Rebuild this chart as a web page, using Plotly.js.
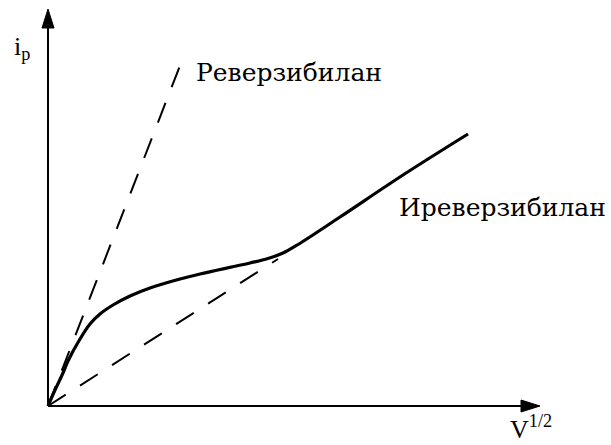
<!DOCTYPE html>
<html>
<head>
<meta charset="utf-8">
<script src="https://cdn.plot.ly/plotly-3.0.1.min.js"></script>
<style>html,body{margin:0;padding:0;background:#fff}</style>
</head>
<body>
<div id="chart" style="width:611px;height:445px"></div>
<script>
// Reversible response: straight line through the origin
const reversibleX = [0, 2.66];
const reversibleY = [0, 6.86];

// Asymptote of the irreversible response at low scan rates
const asymptoteX = [0, 4.6];
const asymptoteY = [0, 2.94];

// Irreversible response: peak current vs square root of scan rate
const irreversibleX = [0, 0.14, 0.3, 0.4, 0.64, 0.84, 1.04, 1.3, 1.64, 2.04, 2.64, 3.04, 4.04, 4.4, 4.7, 5.0, 5.84, 7.1, 8.4];
const irreversibleY = [0, 0.32, 0.66, 0.9, 1.34, 1.64, 1.84, 2.02, 2.2, 2.36, 2.54, 2.64, 2.86, 2.95, 3.06, 3.23, 3.78, 4.62, 5.44];

// Curve labels and axis titles
const curveLabels = ['Реверзибилан', 'Иреверзибилан'];
const axisTitles = ['i<sub>p</sub>', 'V<sup>1/2</sup>'];

// Axis extents (tips of the arrows)
const xTip = 9.84;
const yTip = 7.94;
const headLen = 0.38;
const headHalf = 0.12;

// Cyrillic labels use DejaVu Serif; Latin symbols use Liberation Serif
const cyrSerif = "'DejaVu Serif', serif";
const serif = "'Liberation Serif', 'DejaVu Serif', serif";

const traces = [
  {
    x: reversibleX, y: reversibleY, mode: 'lines', hoverinfo: 'skip',
    line: {color: '#000', width: 2, dash: '21px,17px'}
  },
  {
    x: asymptoteX, y: asymptoteY, mode: 'lines', hoverinfo: 'skip',
    line: {color: '#000', width: 2, dash: '21px,17px'}
  },
  {
    x: irreversibleX, y: irreversibleY, mode: 'lines', hoverinfo: 'skip',
    line: {color: '#000', width: 3.2, shape: 'spline', smoothing: 1}
  }
];

const shapes = [
  {type: 'line', xref: 'x', yref: 'y', x0: 0, y0: 0, x1: xTip - 0.1, y1: 0, line: {color: '#000', width: 2}},
  {type: 'line', xref: 'x', yref: 'y', x0: 0, y0: 0, x1: 0, y1: yTip - 0.1, line: {color: '#000', width: 2}},
  {type: 'path', xref: 'x', yref: 'y',
   path: `M${xTip},0 L${xTip - headLen},${headHalf} L${xTip - headLen},${-headHalf} Z`,
   fillcolor: '#000', line: {color: '#000', width: 1}},
  {type: 'path', xref: 'x', yref: 'y',
   path: `M0,${yTip} L${headHalf},${yTip - headLen} L${-headHalf},${yTip - headLen} Z`,
   fillcolor: '#000', line: {color: '#000', width: 1}}
];

const annotations = [
  {x: 2.92, y: 6.67, xref: 'x', yref: 'y', xanchor: 'left', yanchor: 'middle', showarrow: false,
   text: curveLabels[0], font: {family: cyrSerif, size: 25, color: '#000'}},
  {x: 6.98, y: 3.97, xref: 'x', yref: 'y', xanchor: 'left', yanchor: 'middle', showarrow: false,
   text: curveLabels[1], font: {family: cyrSerif, size: 25, color: '#000'}},
  {x: -0.0315, y: 0.887, xref: 'paper', yref: 'paper', xanchor: 'center', yanchor: 'middle', showarrow: false,
   text: axisTitles[0], font: {family: serif, size: 26, color: '#000'}},
  {x: 0.944, y: -0.028, xref: 'paper', yref: 'paper', xanchor: 'center', yanchor: 'middle', showarrow: false,
   text: axisTitles[1], font: {family: serif, size: 26, color: '#000'}}
];

const layout = {
  width: 611, height: 445,
  margin: {l: 38, r: 51, t: 1, b: 29},
  paper_bgcolor: '#fff', plot_bgcolor: '#fff',
  showlegend: false,
  font: {family: serif},
  xaxis: {range: [-0.2, 10.24], visible: false, fixedrange: true},
  yaxis: {range: [-0.2, 8.1], visible: false, fixedrange: true},
  shapes: shapes,
  annotations: annotations
};

Plotly.newPlot('chart', traces, layout, {staticPlot: true, displayModeBar: false});
</script>
</body>
</html>
